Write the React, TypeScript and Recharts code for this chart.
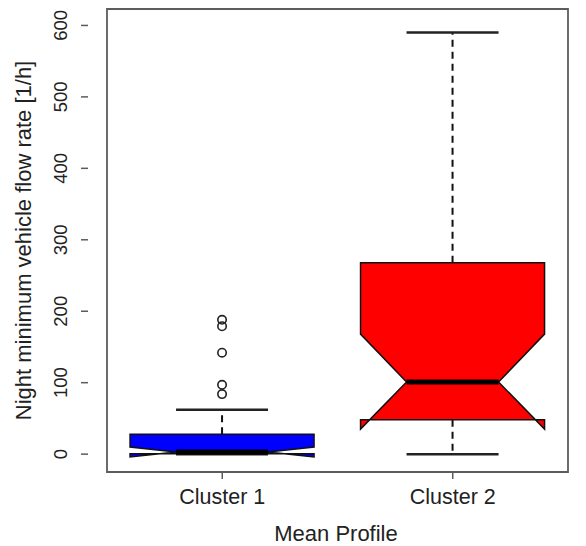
import React from 'react';
import { ComposedChart, Bar, XAxis, YAxis, ReferenceArea, Label } from 'recharts';

// notched boxplot stats
const categories = ['Cluster 1', 'Cluster 2'];
const whiskerLow = [0, 0];
const lowerQuartile = [0.5, 48];
const medians = [3, 101];
const upperQuartile = [28, 268];
const whiskerHigh = [62, 590];
const notchLow = [-4, 35];
const notchHigh = [10, 168];
const outliers = [[188, 179, 142, 97, 84], []];
const boxColors = ['#0000FF', '#FF0000'];
const yTicks = [0, 100, 200, 300, 400, 500, 600];

const data = categories.map((name, i) => ({
  name,
  range: [whiskerLow[i], whiskerHigh[i]],
  q1: lowerQuartile[i],
  med: medians[i],
  q3: upperQuartile[i],
  nlo: notchLow[i],
  nhi: notchHigh[i],
  out: outliers[i],
  fill: boxColors[i],
}));

const FONT = '"Liberation Sans", Arial, Helvetica, sans-serif';
const FRAME = '#5c5c5c';

const BoxShape = (props: any) => {
  const { x, y, width, height, payload } = props;
  if (!payload) return null;
  const top = Math.min(y, y + height);
  const h = Math.abs(height);
  const [lo, hi] = payload.range;
  // linear y mapping taken from the bar's own geometry
  const py = (v: number) => top + (h * (hi - v)) / (hi - lo);
  const cx = x + width / 2;
  const hw = width / 2;
  const pts: [number, number][] = [
    [-1, payload.q1], [1, payload.q1], [1, payload.nlo], [0.5, payload.med], [1, payload.nhi],
    [1, payload.q3], [-1, payload.q3], [-1, payload.nhi], [-0.5, payload.med], [-1, payload.nlo],
  ];
  const poly = pts.map(([f, v]) => `${cx + f * hw},${py(v)}`).join(' ');
  return (
    <g>
      <line x1={cx} x2={cx} y1={py(payload.q3)} y2={py(hi)} stroke="#111" strokeWidth={2} strokeDasharray="7 5" />
      <line x1={cx} x2={cx} y1={py(payload.q1)} y2={py(lo)} stroke="#111" strokeWidth={2} strokeDasharray="7 5" />
      <line x1={cx - hw / 2} x2={cx + hw / 2} y1={py(hi)} y2={py(hi)} stroke="#222" strokeWidth={2.5} />
      <line x1={cx - hw / 2} x2={cx + hw / 2} y1={py(lo)} y2={py(lo)} stroke="#222" strokeWidth={2.5} />
      <polygon points={poly} fill={payload.fill} stroke="#111" strokeWidth={1.5} strokeLinejoin="miter" />
      <line x1={cx - hw / 2} x2={cx + hw / 2} y1={py(payload.med)} y2={py(payload.med)} stroke="#000" strokeWidth={5} />
      {payload.out.map((v: number, k: number) => (
        <circle key={k} cx={cx} cy={py(v)} r={4.2} fill="none" stroke="#222" strokeWidth={1.6} />
      ))}
    </g>
  );
};

const XTick = (props: any) => {
  const { x, y, payload } = props;
  return (
    <text x={x} y={y + 23} textAnchor="middle" fontFamily={FONT} fontSize={21.5} fill="#222">
      {payload.value}
    </text>
  );
};

const YTick = (props: any) => {
  const { x, y, payload } = props;
  return (
    <text x={x} y={y} transform={`rotate(-90, ${x}, ${y})`} textAnchor="middle" fontFamily={FONT} fontSize={18.5} fill="#222">
      {payload.value}
    </text>
  );
};

const YTitle = (props: any) => {
  const vb = props.viewBox || { x: 0, y: 9, width: 88, height: 463 };
  const tx = vb.x + 31;
  const ty = vb.y + vb.height / 2;
  return (
    <text x={tx} y={ty} transform={`rotate(-90, ${tx}, ${ty})`} textAnchor="middle" fontFamily={FONT} fontSize={22} fill="#222">
      Night minimum vehicle flow rate [1/h]
    </text>
  );
};

const XTitle = (props: any) => {
  const vb = props.viewBox || { x: 88, y: 472, width: 496, height: 74 };
  return (
    <text x={vb.x + vb.width / 2} y={vb.y + 69} textAnchor="middle" fontFamily={FONT} fontSize={22} fill="#222">
      Mean Profile
    </text>
  );
};

export default function App() {
  return (
    <div style={{ position: 'absolute', left: 0, top: 0, width: 586, height: 546, background: '#fff' }}>
      <ComposedChart
        width={586}
        height={546}
        data={data}
        margin={{ top: 9, right: 2, bottom: 0, left: 0 }}
        barCategoryGap="10%"
      >
        <XAxis
          dataKey="name"
          height={74}
          padding={{ left: 19, right: 16 }}
          axisLine={false}
          tickSize={7}
          tickMargin={2}
          tickLine={{ stroke: FRAME, strokeWidth: 1.5 }}
          tick={<XTick />}
          interval={0}
        >
          <Label content={<XTitle />} />
        </XAxis>
        <YAxis
          type="number"
          width={88}
          domain={[-25, 623]}
          allowDataOverflow
          ticks={yTicks}
          axisLine={false}
          tickSize={7}
          tickMargin={14}
          tickLine={{ stroke: FRAME, strokeWidth: 1.5 }}
          tick={<YTick />}
        >
          <Label content={<YTitle />} />
        </YAxis>
        <Bar dataKey="range" shape={<BoxShape />} isAnimationActive={false} />
        <ReferenceArea y1={-25} y2={623} fill="none" stroke={FRAME} strokeWidth={1.8} fillOpacity={0} ifOverflow="visible" />
      </ComposedChart>
    </div>
  );
}
